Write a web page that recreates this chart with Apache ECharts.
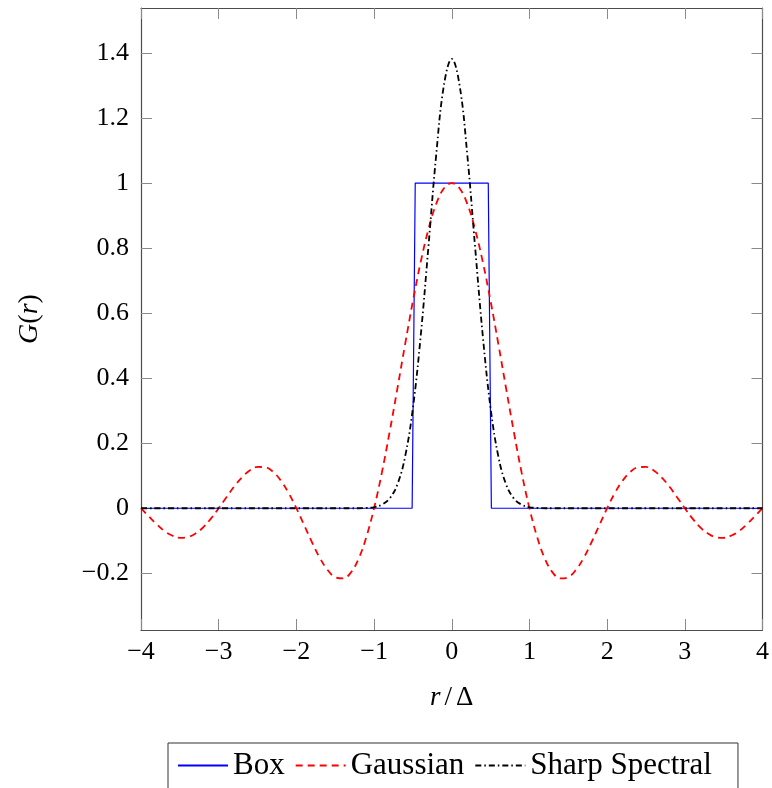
<!DOCTYPE html>
<html><head><meta charset="utf-8">
<script src="https://cdn.jsdelivr.net/npm/echarts@6/dist/echarts.min.js"></script>
<style>html,body{margin:0;padding:0;background:#fff}#c{width:772px;height:788px}</style>
</head><body><div id="c"></div>
<script>
const xTicks = [-4, -3, -2, -1, 0, 1, 2, 3, 4];
const yTicks = [-0.2, 0, 0.2, 0.4, 0.6, 0.8, 1, 1.2, 1.4];
const seriesNames = ['Box', 'Gaussian', 'Sharp Spectral'];

const xs = [-4.0,-3.9,-3.8,-3.7,-3.6,-3.5,-3.4,-3.3,-3.2,-3.1,
  -3.0,-2.9,-2.8,-2.7,-2.6,-2.5,-2.4,-2.3,-2.2,-2.1,
  -2.0,-1.9,-1.8,-1.7,-1.6,-1.5,-1.4,-1.3,-1.2,-1.1,
  -1.0,-0.9,-0.8,-0.7,-0.6,-0.5,-0.4,-0.3,-0.2,-0.1,
  0,
  0.1,0.2,0.3,0.4,0.5,0.6,0.7,0.8,0.9,1.0,
  1.1,1.2,1.3,1.4,1.5,1.6,1.7,1.8,1.9,2.0,
  2.1,2.2,2.3,2.4,2.5,2.6,2.7,2.8,2.9,3.0,
  3.1,3.2,3.3,3.4,3.5,3.6,3.7,3.8,3.9,4.0];

const boxX = [-4, -0.51, -0.47, 0.47, 0.51, 4];
const boxY = [0, 0, 1, 1, 0, 0];

const gaussianY = [0,-0.025,-0.049,-0.070,-0.084,-0.091,-0.089,-0.078,-0.059,-0.032,
  0,0.034,0.067,0.095,0.116,0.127,0.126,0.112,0.085,0.047,
  0,-0.052,-0.104,-0.152,-0.189,-0.212,-0.216,-0.198,-0.156,-0.089,
  0,0.109,0.234,0.368,0.505,0.637,0.757,0.858,0.936,0.984,
  1,
  0.984,0.936,0.858,0.757,0.637,0.505,0.368,0.234,0.109,0,
  -0.089,-0.156,-0.198,-0.216,-0.212,-0.189,-0.152,-0.104,-0.052,0,
  0.047,0.085,0.112,0.126,0.127,0.116,0.095,0.067,0.034,0,
  -0.032,-0.059,-0.078,-0.089,-0.091,-0.084,-0.070,-0.049,-0.025,0];

const sharpY = [0,0,0,0,0,0,0,0,0,0,
  0,0,0,0,0,0,0,0,0,0,
  0,0,0,0,0,0,0,0,0,0.001,
  0.003,0.011,0.030,0.073,0.159,0.308,0.529,0.805,1.087,1.302,
  1.382,
  1.302,1.087,0.805,0.529,0.308,0.159,0.073,0.030,0.011,0.003,
  0.001,0,0,0,0,0,0,0,0,0,
  0,0,0,0,0,0,0,0,0,0,
  0,0,0,0,0,0,0,0,0,0];

const FONT = "'Liberation Serif', 'DejaVu Serif', serif";
const zip = (a, b) => a.map((v, i) => [v, b[i]]);
const fmt = v => String(v).replace('-', '\u2212');

const frameColor = '#4d4d4d';
const tickColor = '#8a8a8a';

function xAx(pos, main) {
  return {
    type: 'value', position: pos, min: -4, max: 4, interval: 1,
    axisLine: { show: true, onZero: false, lineStyle: { color: frameColor, width: 1.2 } },
    axisTick: { show: true, inside: true, length: 11, lineStyle: { color: tickColor, width: 1 } },
    axisLabel: { show: main, margin: 9, fontSize: 26, color: '#000', fontFamily: FONT, formatter: fmt,
      customValues: xTicks },
    splitLine: { show: false },
    name: main ? '{i|r}{s|/}\u0394' : '',
    nameLocation: 'middle', nameGap: 54,
    nameTextStyle: { fontSize: 27, color: '#000', fontFamily: FONT,
      rich: { i: { fontSize: 27, fontStyle: 'italic', fontFamily: FONT, color: '#000' },
              s: { fontSize: 27, fontFamily: FONT, color: '#000', padding: [0, 4, 0, 4] } } }
  };
}
function yAx(pos, main) {
  return {
    type: 'value', position: pos, min: -0.3745, max: 1.5385,
    axisLine: { show: true, onZero: false, lineStyle: { color: frameColor, width: 1.2 } },
    axisTick: { show: true, inside: true, length: 11, lineStyle: { color: tickColor, width: 1 },
      customValues: yTicks },
    axisLabel: { show: main, margin: 12, fontSize: 26, color: '#000', fontFamily: FONT, formatter: fmt,
      customValues: yTicks },
    splitLine: { show: false },
    name: main ? '{i|G}({i|r})' : '',
    nameLocation: 'middle', nameGap: 97, nameRotate: 90,
    nameTextStyle: { fontSize: 28, color: '#000', fontFamily: FONT,
      rich: { i: { fontSize: 28, fontStyle: 'italic', fontFamily: FONT, color: '#000' } } }
  };
}

const chart = echarts.init(document.getElementById('c'), null, { renderer: 'canvas' });
chart.setOption({
  animation: false,
  backgroundColor: '#fff',
  grid: { left: 141, top: 8, right: 8, bottom: 158, containLabel: false },
  xAxis: [xAx('bottom', true), xAx('top', false)],
  yAxis: [yAx('left', true), yAx('right', false)],
  legend: {
    data: seriesNames, left: 168, top: 743, orient: 'horizontal',
    borderColor: '#333', borderWidth: 1, padding: [7, 26, 40, 9],
    itemWidth: 50, itemHeight: 14, itemGap: 10,
    itemStyle: { opacity: 0 },
    textStyle: { fontSize: 31, color: '#000', fontFamily: FONT }
  },
  series: [
    { name: seriesNames[0], type: 'line', data: zip(boxX, boxY), symbol: 'none', z: 2,
      lineStyle: { color: '#0000ff', width: 1.2 }, itemStyle: { color: '#0000ff' } },
    { name: seriesNames[1], type: 'line', data: zip(xs, gaussianY), symbol: 'none', smooth: 0.4, z: 3,
      lineStyle: { color: '#ff0000', width: 1.8, type: [7, 5] }, itemStyle: { color: '#ff0000' } },
    { name: seriesNames[2], type: 'line', data: zip(xs, sharpY), symbol: 'none', smooth: 0.4, z: 4,
      lineStyle: { color: '#000', width: 1.8, type: [6, 3, 1.5, 3] }, itemStyle: { color: '#000' } }
  ]
});
</script></body></html>
